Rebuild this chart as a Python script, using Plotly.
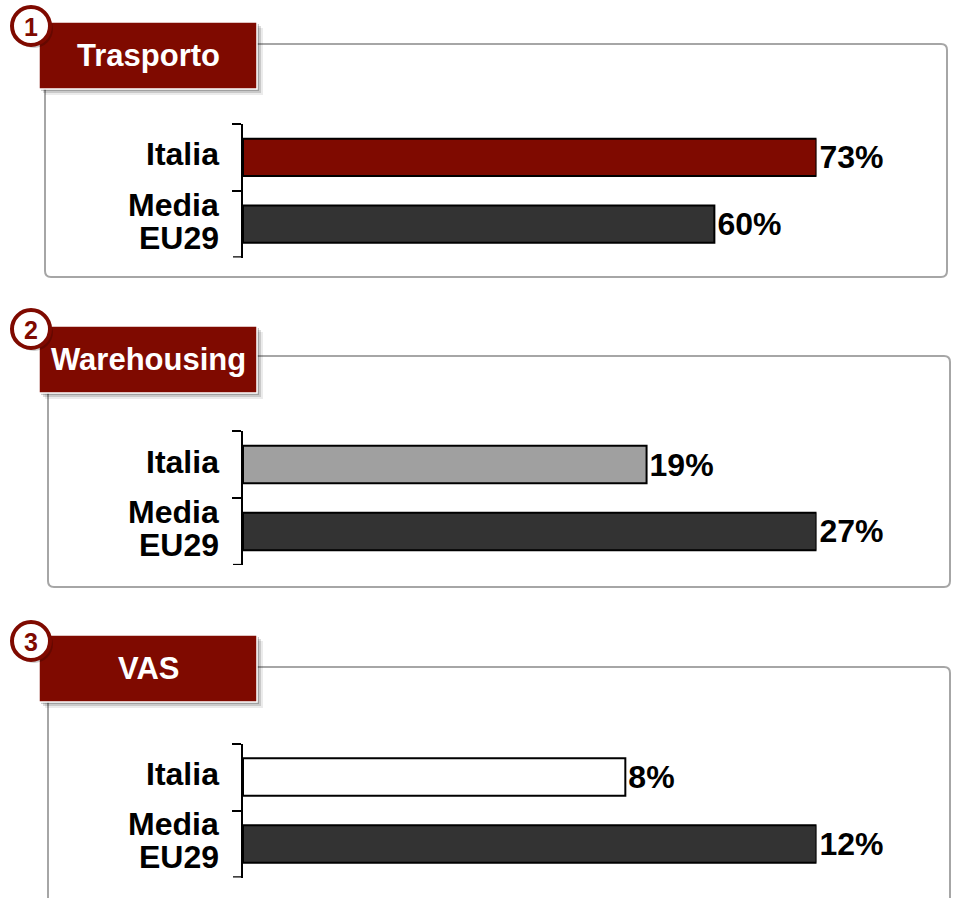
import plotly.graph_objects as go

# ---------------- data ----------------
categories = ["Italia", "Media EU29"]
panel_titles = ["Trasporto", "Warehousing", "VAS"]
panel_numbers = ["1", "2", "3"]
trasporto = [73, 60]
warehousing = [19, 27]
vas = [8, 12]
italia_colors = ["#7F0A00", "#A0A0A0", "#FFFFFF"]
media_color = "#333333"

# ---------------- layout helpers ----------------
W, H = 955, 898
DARK_RED = "#7F0A00"
FONT = "Liberation Sans, Arial, sans-serif"
LABEL_SIZE = 32


def px(x):
    return x / W


def py(y):
    return 1 - y / H


panels = [
    dict(values=trasporto, ydom=(124, 257.5), box=(45, 44, 947, 277),
         title=(39, 22, 257, 89), circle=(31, 26)),
    dict(values=warehousing, ydom=(431, 565), box=(48, 356, 950, 587),
         title=(39, 326, 257, 393), circle=(31, 329)),
    dict(values=vas, ydom=(743.5, 877.5), box=(48, 667, 950, 910),
         title=(39, 635, 257, 702), circle=(31, 641)),
]

XDOM = (px(243), px(816.5))


def rounded_rect(x0, y0, x1, y1, r=6):
    pts = [
        f"M {px(x0 + r)},{py(y0)}",
        f"L {px(x1 - r)},{py(y0)}",
        f"Q {px(x1)},{py(y0)} {px(x1)},{py(y0 + r)}",
        f"L {px(x1)},{py(y1 - r)}",
        f"Q {px(x1)},{py(y1)} {px(x1 - r)},{py(y1)}",
        f"L {px(x0 + r)},{py(y1)}",
        f"Q {px(x0)},{py(y1)} {px(x0)},{py(y1 - r)}",
        f"L {px(x0)},{py(y0 + r)}",
        f"Q {px(x0)},{py(y0)} {px(x0 + r)},{py(y0)}",
        "Z",
    ]
    return " ".join(pts)


fig = go.Figure()
shapes = []
annotations = []
layout_axes = {}

for i, p in enumerate(panels):
    n = "" if i == 0 else str(i + 1)
    vals = p["values"]
    colors = [italia_colors[i], media_color]
    fig.add_trace(go.Bar(
        x=vals, y=categories, orientation="h",
        xaxis="x" + n, yaxis="y" + n,
        marker=dict(color=colors, line=dict(color="#000000", width=2)),
        width=0.56,
        texttemplate="%{x}%", textposition="outside",
        textfont=dict(family=FONT, size=LABEL_SIZE, color="#000000", weight="bold"),
        constraintext="none", cliponaxis=False,
        showlegend=False, hoverinfo="skip",
    ))
    y0p, y1p = p["ydom"]
    layout_axes["xaxis" + n] = dict(
        domain=list(XDOM), range=[0, max(vals)], visible=False,
        anchor="y" + n, fixedrange=True,
    )
    layout_axes["yaxis" + n] = dict(
        domain=[py(y1p), py(y0p)], anchor="x" + n,
        type="category", categoryorder="array", categoryarray=categories,
        range=[1.502, -0.502],
        showline=True, linecolor="#000000", linewidth=2,
        ticks="outside", ticklen=9, tickwidth=2, tickcolor="#000000",
        tickson="boundaries", showticklabels=False,
        showgrid=False, zeroline=False, fixedrange=True,
    )
    # closing boundary tick of the bracket (bottom edge of the last category)
    shapes.append(dict(type="line", xref="paper", yref="y" + n,
                       x0=px(233), x1=px(243), y0=1.5, y1=1.5,
                       line=dict(color="#000000", width=2), layer="above"))

    # category labels, placed on the category axis (lines split on space)
    for cat in categories:
        lines = cat.split(" ")
        k = len(lines)
        for j, line in enumerate(lines):
            shift = (-(j - (k - 1) / 2)) * 33 + 3
            annotations.append(dict(
                xref="paper", yref="y" + n, x=px(221), y=cat, yshift=shift,
                text=line, showarrow=False, xanchor="right", yanchor="middle",
                font=dict(family=FONT, size=LABEL_SIZE, color="#000000", weight="bold"),
            ))

    # panel frame
    bx0, by0, bx1, by1 = p["box"]
    shapes.append(dict(type="path", xref="paper", yref="paper",
                       path=rounded_rect(bx0, by0, bx1, by1),
                       line=dict(color="#A6A6A6", width=2),
                       fillcolor="rgba(0,0,0,0)", layer="below"))

    # title box shadow + box
    tx0, ty0, tx1, ty1 = p["title"]
    for off, op in [(6, 0.08), (4, 0.14), (2, 0.2)]:
        shapes.append(dict(type="rect", xref="paper", yref="paper",
                           x0=px(tx0 + off), x1=px(tx1 + off),
                           y0=py(ty1 + off), y1=py(ty0 + off),
                           fillcolor=f"rgba(0,0,0,{op})", line=dict(width=0),
                           layer="above"))
    shapes.append(dict(type="rect", xref="paper", yref="paper",
                       x0=px(tx0), x1=px(tx1), y0=py(ty1), y1=py(ty0),
                       fillcolor=DARK_RED, line=dict(color="#FFFFFF", width=1.5),
                       layer="above"))
    annotations.append(dict(
        xref="paper", yref="paper", x=px((tx0 + tx1) / 2), y=py((ty0 + ty1) / 2),
        text=panel_titles[i], showarrow=False, xanchor="center", yanchor="middle",
        font=dict(family=FONT, size=31, color="#FFFFFF", weight="bold"),
    ))

    # number circle
    cx, cy = p["circle"]
    r = 19
    shapes.append(dict(type="circle", xref="paper", yref="paper",
                       x0=px(cx - r + 3), x1=px(cx + r + 3),
                       y0=py(cy + r + 3), y1=py(cy - r + 3),
                       fillcolor="rgba(0,0,0,0.2)", line=dict(width=0),
                       layer="above"))
    shapes.append(dict(type="circle", xref="paper", yref="paper",
                       x0=px(cx - r), x1=px(cx + r), y0=py(cy + r), y1=py(cy - r),
                       fillcolor="#FFFFFF", line=dict(color=DARK_RED, width=4),
                       layer="above"))
    annotations.append(dict(
        xref="paper", yref="paper", x=px(cx), y=py(cy + 1),
        text=panel_numbers[i], showarrow=False, xanchor="center", yanchor="middle",
        font=dict(family=FONT, size=25, color=DARK_RED, weight="bold"),
    ))

fig.update_layout(
    width=W, height=H,
    margin=dict(l=0, r=0, t=0, b=0),
    paper_bgcolor="#FFFFFF", plot_bgcolor="rgba(0,0,0,0)",
    shapes=shapes, annotations=annotations,
    **layout_axes,
)

fig.write_html("out.html", config={"displayModeBar": False},
               post_script="document.body.style.margin='0';")
